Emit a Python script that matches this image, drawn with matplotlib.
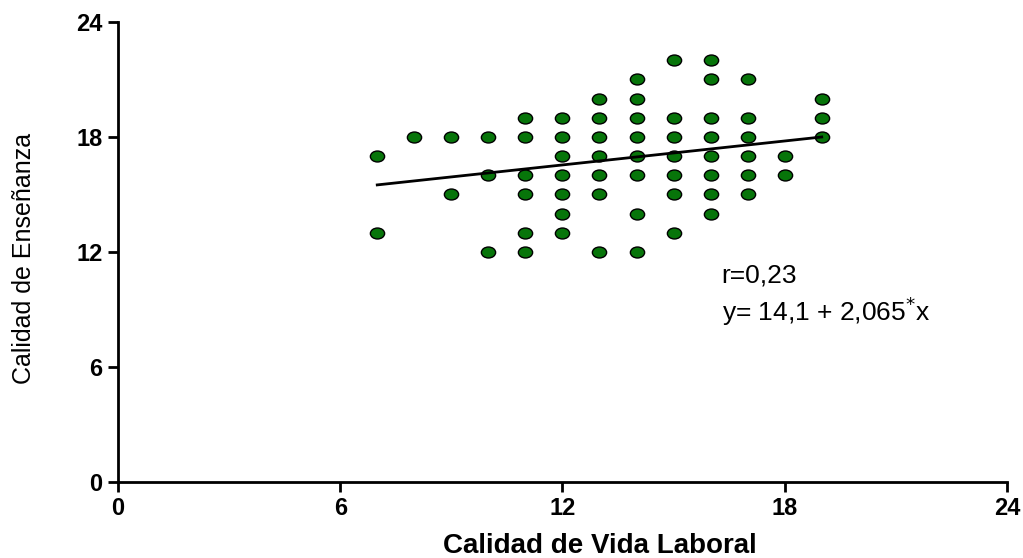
import numpy as np
import matplotlib.pyplot as plt
from matplotlib.path import Path
from matplotlib.transforms import Affine2D

plt.rcParams['font.family'] = ['Liberation Sans', 'DejaVu Sans']

# Puntos (columna x -> valores y)
col_x = [7, 8, 9, 10, 11, 12, 13, 14, 15, 16, 17, 18, 19]
col_y = [
    [17, 13],
    [18],
    [18, 15],
    [18, 16, 12],
    [19, 18, 16, 15, 13, 12],
    [19, 18, 17, 16, 15, 14, 13],
    [20, 19, 18, 17, 16, 15, 12],
    [21, 20, 19, 18, 17, 16, 14, 12],
    [22, 19, 18, 17, 16, 15, 13],
    [22, 21, 19, 18, 17, 16, 15, 14],
    [21, 19, 18, 17, 16, 15],
    [17, 16],
    [20, 19, 18],
]

# Recta de regresion (extremos leidos)
line_x = [7, 19]
line_y = [15.5, 18.0]

ticks = [0, 6, 12, 18, 24]

x = []
y = []
for cx, ys in zip(col_x, col_y):
    for v in ys:
        x.append(cx)
        y.append(v)

# marcador eliptico (mas ancho que alto)
ellipse = Path.unit_circle().transformed(Affine2D().scale(1.3, 1.0))

fig = plt.figure(figsize=(10.23, 5.58), dpi=100)
ax = fig.add_axes([0.1153, 0.1362, 0.869, 0.8244])

ax.plot(line_x, line_y, color='black', lw=2, zorder=3)
ax.scatter(x, y, s=105, marker=ellipse, facecolor='#07750a',
           edgecolor='black', linewidths=1.0, zorder=2)

ax.set_xlim(0, 24)
ax.set_ylim(0, 24)
ax.set_xticks(ticks)
ax.set_yticks(ticks)
ax.tick_params(direction='out', length=7, width=2, labelsize=17, pad=4)
for lab in ax.get_xticklabels() + ax.get_yticklabels():
    lab.set_fontweight('bold')

for s in ['top', 'right']:
    ax.spines[s].set_visible(False)
for s in ['left', 'bottom']:
    ax.spines[s].set_linewidth(2)
    ax.spines[s].set_clip_on(False)

fig.text(600 / 1023, 1 - 546 / 558, 'Calidad de Vida Laboral', fontsize=20,
         fontweight='bold', ha='center', va='center')
fig.text(24 / 1023, 1 - 258 / 558, 'Calidad de Enseñanza', fontsize=18,
         rotation=90, ha='center', va='center')

ax.text(16.3, 10.4, 'r=0,23', fontsize=19)
ax.text(16.3, 8.4, 'y= 14,1 + 2,065$^{*}$x', fontsize=19)

fig.savefig('out.png', dpi=100)
